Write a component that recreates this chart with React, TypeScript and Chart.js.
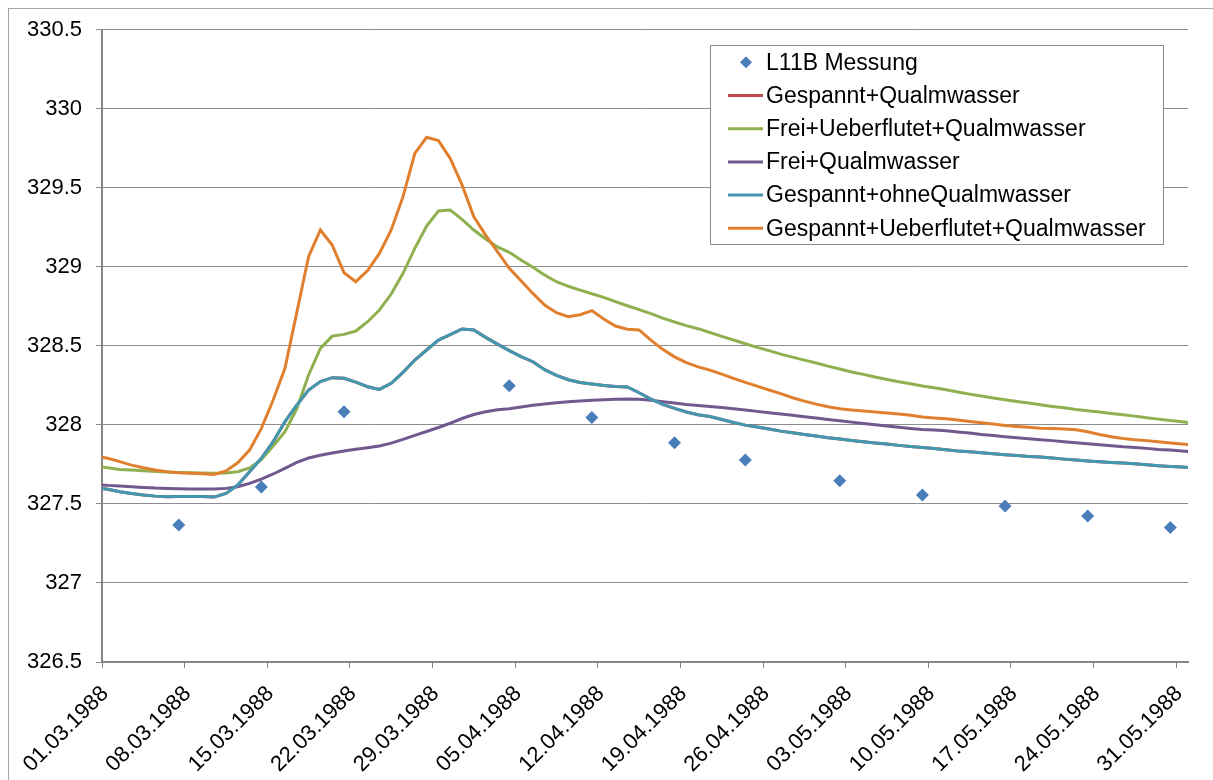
import React, { useEffect, useRef } from 'react';
import { Chart, registerables } from 'chart.js';

Chart.register(...registerables);

// x-axis: days since 01.03.1988; tick every 7 days
const tickLabels = [
  '01.03.1988', '08.03.1988', '15.03.1988', '22.03.1988', '29.03.1988',
  '05.04.1988', '12.04.1988', '19.04.1988', '26.04.1988', '03.05.1988',
  '10.05.1988', '17.05.1988', '24.05.1988', '31.05.1988',
];
const tickDays = [0, 7, 14, 21, 28, 35, 42, 49, 56, 63, 70, 77, 84, 91];

// measurement (L11B Messung), days since 01.03.1988 (mid-day)
const messungDays = [6.5, 13.5, 20.5, 34.5, 41.5, 48.5, 54.5, 62.5, 69.5, 76.5, 83.5, 90.5];
const messung = [327.366, 327.606, 328.083, 328.247, 328.047, 327.887, 327.777, 327.646, 327.556, 327.486, 327.423, 327.351];

// simulation output: one value per day (mid-day), 29.02.1988 .. 01.06.1988
const simDays = Array.from({ length: 94 }, (_, i) => i - 0.5);

const freiUeberflutetQualmwasser = [
  327.737, 327.729, 327.718, 327.714, 327.71, 327.705, 327.701, 327.699, 327.697, 327.695,
  327.693, 327.696, 327.703, 327.727, 327.78, 327.866, 327.956, 328.1, 328.315, 328.483,
  328.561, 328.572, 328.593, 328.652, 328.726, 328.827, 328.958, 329.116, 329.257, 329.352,
  329.358, 329.299, 329.232, 329.175, 329.125, 329.091, 329.042, 328.996, 328.947, 328.905,
  328.876, 328.852, 328.829, 328.806, 328.779, 328.753, 328.728, 328.703, 328.675, 328.65,
  328.627, 328.608, 328.584, 328.559, 328.536, 328.513, 328.49, 328.469, 328.447, 328.428,
  328.409, 328.391, 328.371, 328.353, 328.334, 328.319, 328.302, 328.287, 328.272, 328.26,
  328.245, 328.234, 328.222, 328.207, 328.194, 328.182, 328.169, 328.159, 328.148, 328.138,
  328.127, 328.116, 328.108, 328.097, 328.089, 328.081, 328.072, 328.064, 328.055, 328.045,
  328.036, 328.028, 328.019, 328.011,
];

const freiQualmwasser = [
  327.623, 327.617, 327.613, 327.608, 327.604, 327.6, 327.598, 327.596, 327.594, 327.594,
  327.594, 327.598, 327.608, 327.63, 327.657, 327.689, 327.725, 327.762, 327.79, 327.808,
  327.822, 327.835, 327.845, 327.855, 327.866, 327.884, 327.908, 327.933, 327.958, 327.983,
  328.01, 328.04, 328.065, 328.083, 328.095, 328.102, 328.112, 328.123, 328.131, 328.14,
  328.146, 328.15, 328.155, 328.159, 328.161, 328.163, 328.161, 328.155, 328.146, 328.138,
  328.129, 328.122, 328.116, 328.11, 328.102, 328.093, 328.085, 328.076, 328.068, 328.06,
  328.051, 328.043, 328.034, 328.026, 328.017, 328.009, 328.0, 327.992, 327.984, 327.977,
  327.971, 327.967, 327.962, 327.954, 327.948, 327.939, 327.933, 327.925, 327.918, 327.912,
  327.906, 327.9, 327.893, 327.887, 327.88, 327.874, 327.868, 327.861, 327.857, 327.851,
  327.844, 327.84, 327.834, 327.828,
];

const gespanntOhneQualmwasser = [
  327.602, 327.592, 327.577, 327.566, 327.556, 327.549, 327.545, 327.547, 327.547, 327.547,
  327.543, 327.566, 327.619, 327.703, 327.788, 327.893, 328.02, 328.125, 328.22, 328.273,
  328.298, 328.294, 328.27, 328.241, 328.224, 328.262, 328.332, 328.41, 328.473, 328.536,
  328.57, 328.606, 328.6, 328.553, 328.51, 328.469, 328.431, 328.399, 328.349, 328.313,
  328.285, 328.268, 328.258, 328.249, 328.243, 328.239, 328.203, 328.163, 328.129, 328.104,
  328.081, 328.064, 328.053, 328.034, 328.015, 327.998, 327.986, 327.973, 327.96, 327.95,
  327.939, 327.929, 327.918, 327.91, 327.901, 327.893, 327.885, 327.878, 327.87, 327.863,
  327.857, 327.85, 327.842, 327.834, 327.83, 327.823, 327.817, 327.811, 327.806, 327.8,
  327.796, 327.79, 327.783, 327.777, 327.771, 327.766, 327.762, 327.758, 327.754, 327.747,
  327.741, 327.737, 327.733, 327.728,
];

// hidden beneath the "ohne Qualmwasser" curve in the picture (identical course)
const gespanntQualmwasser = [
  327.602, 327.592, 327.577, 327.566, 327.556, 327.549, 327.545, 327.547, 327.547, 327.547,
  327.543, 327.566, 327.619, 327.703, 327.788, 327.893, 328.02, 328.125, 328.22, 328.273,
  328.298, 328.294, 328.27, 328.241, 328.224, 328.262, 328.332, 328.41, 328.473, 328.536,
  328.57, 328.606, 328.6, 328.553, 328.51, 328.469, 328.431, 328.399, 328.349, 328.313,
  328.285, 328.268, 328.258, 328.249, 328.243, 328.239, 328.203, 328.163, 328.129, 328.104,
  328.081, 328.064, 328.053, 328.034, 328.015, 327.998, 327.986, 327.973, 327.96, 327.95,
  327.939, 327.929, 327.918, 327.91, 327.901, 327.893, 327.885, 327.878, 327.87, 327.863,
  327.857, 327.85, 327.842, 327.834, 327.83, 327.823, 327.817, 327.811, 327.806, 327.8,
  327.796, 327.79, 327.783, 327.777, 327.771, 327.766, 327.762, 327.758, 327.754, 327.747,
  327.741, 327.737, 327.733, 327.728,
];

const gespanntUeberflutetQualmwasser = [
  327.8, 327.788, 327.767, 327.745, 327.729, 327.714, 327.703, 327.697, 327.693, 327.69,
  327.686, 327.708, 327.76, 327.84, 327.977, 328.157, 328.357, 328.71, 329.063, 329.232,
  329.137, 328.962, 328.905, 328.975, 329.084, 329.232, 329.443, 329.717, 329.818, 329.797,
  329.685, 329.517, 329.316, 329.2, 329.095, 328.99, 328.911, 328.831, 328.757, 328.709,
  328.684, 328.696, 328.722, 328.669, 328.625, 328.604, 328.6, 328.536, 328.477, 328.43,
  328.393, 328.366, 328.346, 328.321, 328.294, 328.268, 328.245, 328.22, 328.197, 328.171,
  328.15, 328.131, 328.114, 328.102, 328.093, 328.087, 328.081, 328.074, 328.068, 328.06,
  328.049, 328.043, 328.038, 328.03, 328.021, 328.013, 328.005, 327.996, 327.99, 327.984,
  327.979, 327.977, 327.973, 327.969, 327.956, 327.939, 327.925, 327.914, 327.906, 327.9,
  327.893, 327.885, 327.878, 327.872,
];

const FONT = '"Liberation Sans", Arial, Helvetica, sans-serif';

const pts = (xs: number[], ys: number[]) => xs.map((x, i) => ({ x, y: ys[i] }));

const frameAndLegend = {
  id: 'frameAndLegend',
  afterDraw(chart: any) {
    const ctx = chart.ctx as CanvasRenderingContext2D;
    ctx.save();
    // outer chart frame
    ctx.strokeStyle = '#a6a6a6';
    ctx.lineWidth = 1;
    ctx.strokeRect(8.5, 8.5, 1400, 1000);
    // legend box
    const bx = 710.5, by = 45.5, bw = 453, bh = 199;
    ctx.fillStyle = '#ffffff';
    ctx.fillRect(bx, by, bw, bh);
    ctx.strokeStyle = '#8c8c8c';
    ctx.strokeRect(bx, by, bw, bh);
    const y0 = 62.3, rowH = 33.2;
    chart.data.datasets.forEach((ds: any, i: number) => {
      const y = y0 + i * rowH;
      if (ds.showLine === false) {
        const r = 6;
        ctx.fillStyle = ds.backgroundColor;
        ctx.beginPath();
        ctx.moveTo(746, y - r);
        ctx.lineTo(746 + r, y);
        ctx.lineTo(746, y + r);
        ctx.lineTo(746 - r, y);
        ctx.closePath();
        ctx.fill();
      } else {
        ctx.strokeStyle = ds.borderColor;
        ctx.lineWidth = 3;
        ctx.beginPath();
        ctx.moveTo(728, y);
        ctx.lineTo(763, y);
        ctx.stroke();
      }
      ctx.fillStyle = '#000000';
      ctx.font = `23px ${FONT}`;
      ctx.textBaseline = 'middle';
      ctx.textAlign = 'left';
      ctx.fillText(ds.label, 766, y + 1);
    });
    ctx.restore();
  },
};

export default function App() {
  const ref = useRef<HTMLCanvasElement | null>(null);

  useEffect(() => {
    if (!ref.current) return;
    const lineDs = (label: string, data: number[], color: string, order: number) => ({
      label,
      data: pts(simDays, data),
      borderColor: color,
      backgroundColor: color,
      borderWidth: 3,
      pointRadius: 0,
      tension: 0,
      fill: false,
      order,
    });
    const chart = new Chart(ref.current, {
      type: 'line',
      data: {
        datasets: [
          {
            label: 'L11B Messung',
            data: pts(messungDays, messung),
            showLine: false,
            pointStyle: 'rectRot',
            pointRadius: 6.5,
            pointBackgroundColor: '#4A7EBB',
            pointBorderColor: '#4A7EBB',
            pointBorderWidth: 0,
            backgroundColor: '#4A7EBB',
            borderColor: '#4A7EBB',
            order: 5,
          } as any,
          lineDs('Gespannt+Qualmwasser', gespanntQualmwasser, '#BE4B48', 4),
          lineDs('Frei+Ueberflutet+Qualmwasser', freiUeberflutetQualmwasser, '#8FB04F', 3),
          lineDs('Frei+Qualmwasser', freiQualmwasser, '#71588F', 2),
          lineDs('Gespannt+ohneQualmwasser', gespanntOhneQualmwasser, '#4298B0', 1),
          lineDs('Gespannt+Ueberflutet+Qualmwasser', gespanntUeberflutetQualmwasser, '#E0802F', 0),
        ],
      },
      options: {
        responsive: false,
        devicePixelRatio: 1,
        animation: false,
        layout: { padding: { left: 0, top: 29.5, right: 25, bottom: 0 } },
        plugins: { legend: { display: false }, tooltip: { enabled: false } },
        scales: {
          x: {
            type: 'linear',
            min: 0,
            max: 92,
            afterBuildTicks: (s: any) => {
              s.ticks = tickDays.map((v) => ({ value: v }));
            },
            afterFit: (s: any) => {
              s.height = 118;
            },
            ticks: {
              autoSkip: false,
              minRotation: 45,
              maxRotation: 45,
              color: '#000000',
              padding: 13,
              labelOffset: 3,
              font: { family: FONT, size: 22 },
              callback: (_v: any, i: number) => tickLabels[i],
            },
            grid: { drawOnChartArea: false, drawTicks: true, tickLength: 6, color: '#868686', lineWidth: 1 },
            border: { display: true, color: '#868686', width: 2 },
          },
          y: {
            min: 326.5,
            max: 330.5,
            afterFit: (s: any) => {
              s.width = 102;
            },
            ticks: {
              stepSize: 0.5,
              color: '#000000',
              padding: 14,
              font: { family: FONT, size: 22 },
              callback: (v: any) => String(v),
            },
            grid: { color: '#8c8c8c', lineWidth: 1, tickLength: 6, drawTicks: true },
            border: { display: true, color: '#868686', width: 2 },
          },
        },
      },
      plugins: [frameAndLegend],
    });
    return () => chart.destroy();
  }, []);

  return (
    <canvas
      ref={ref}
      width={1213}
      height={780}
      style={{ position: 'fixed', left: 0, top: 0, width: '1213px', height: '780px' }}
    />
  );
}
